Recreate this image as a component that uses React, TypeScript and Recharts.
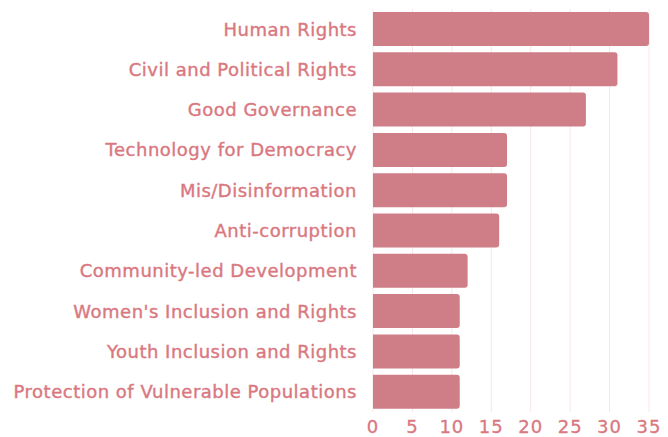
import { BarChart, Bar, XAxis, YAxis, CartesianGrid } from "recharts";

const categories = [
  "Human Rights",
  "Civil and Political Rights",
  "Good Governance",
  "Technology for Democracy",
  "Mis/Disinformation",
  "Anti-corruption",
  "Community-led Development",
  "Women's Inclusion and Rights",
  "Youth Inclusion and Rights",
  "Protection of Vulnerable Populations",
];
const counts = [35, 31, 27, 17, 17, 16, 12, 11, 11, 11];
const xTicks = [0, 5, 10, 15, 20, 25, 30, 35];

const data = categories.map((name, i) => ({ name, count: counts[i] }));

const textColor = "#d9787f";
const barColor = "#cf7e88";

export default function App() {
  return (
    <div style={{ position: "absolute", left: 0, top: 0, background: "#fff" }}>
      <BarChart
        width={668}
        height={437}
        data={data}
        layout="vertical"
        margin={{ top: 9, right: 19, bottom: 0, left: 0 }}
        barCategoryGap={3}
      >
        <CartesianGrid horizontal={false} stroke="#f8e6e8" strokeWidth={1} />
        <XAxis
          type="number"
          domain={[0, 35]}
          ticks={xTicks}
          axisLine={false}
          tickLine={false}
          tickMargin={2}
          height={25}
          tick={{
            fontSize: 18,
            fill: textColor,
            fontFamily: "DejaVu Sans",
            letterSpacing: 1,
            stroke: textColor,
            strokeWidth: 0.3,
          }}
        />
        <YAxis
          type="category"
          dataKey="name"
          width={373}
          axisLine={false}
          tickLine={false}
          tickMargin={10}
          interval={0}
          tick={{
            fontSize: 18,
            fill: textColor,
            fontFamily: "DejaVu Sans",
            letterSpacing: 0.5,
            stroke: textColor,
            strokeWidth: 0.4,
          }}
        />
        <Bar
          dataKey="count"
          fill={barColor}
          radius={[0, 3, 3, 0]}
          isAnimationActive={false}
        />
      </BarChart>
    </div>
  );
}
